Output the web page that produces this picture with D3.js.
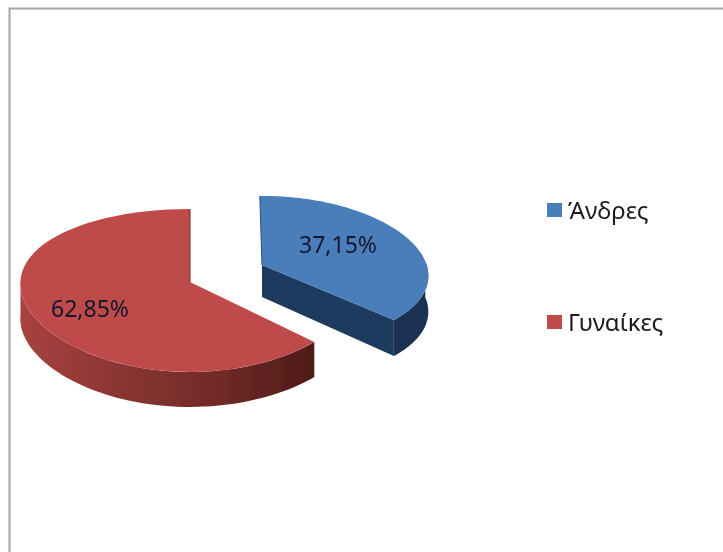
<!DOCTYPE html>
<html><head><meta charset="utf-8">
<script src="https://cdn.jsdelivr.net/npm/d3@7"></script>
<style>html,body{margin:0;padding:0;background:#fff}svg{display:block}text{font-family:"Noto Sans",sans-serif;}</style>
</head><body><svg id="c" width="723" height="552"></svg>
<script>
const categories = ["Άνδρες", "Γυναίκες"];
const values = [37.15, 62.85];
const labels = ["37,15%", "62,85%"];
const faceColors = ["#4a7ebb", "#be4b48"];

const svg = d3.select("#c");
const defs = svg.append("defs");
defs.append("filter").attr("id","soft").attr("x","-5%").attr("y","-5%").attr("width","110%").attr("height","110%")
  .append("feGaussianBlur").attr("stdDeviation",0.6);
const g = defs.append("linearGradient").attr("id","redSide").attr("gradientUnits","userSpaceOnUse")
  .attr("x1",20).attr("x2",314).attr("y1",0).attr("y2",0);
[[0,"#a8423f"],[0.35,"#8a3533"],[0.7,"#6e2927"],[1,"#4f1a18"]].forEach(s=>g.append("stop").attr("offset",s[0]).attr("stop-color",s[1]));

svg.append("path").attr("d","M9.5,552V8.5H723").attr("fill","none").attr("stroke","#a6a6a6").attr("stroke-width",2);

const pie = d3.pie().sort(null).value(d=>d)(values);
const rx = d3.scaleLinear().domain([0,1]).range([0,168]);
const ry = d3.scaleLinear().domain([0,1]).range([0,80.6]);
const depth = 35;
const apex = [
  {x:262,y:265,sx:0.98,sy:0.93,kx:0.142,ky:0.085},
  {x:190,y:282,sx:1.01,sy:1,kx:0.02,ky:0.104}
];
const pt = (i,a)=>{const A=apex[i],u=Math.sin(a),v=-Math.cos(a);
  return [A.x+A.sx*rx(u/(1-A.kx*v)), A.y+A.sy*ry(v/(1-A.ky*v))];};
const arc = (i,a0,a1)=>d3.range(0,61).map(t=>pt(i,a0+(a1-a0)*t/60));
const line = d3.line();
const root = svg.append("g").attr("filter","url(#soft)");

// blue slice
{
 const i=0,p=pie[0],a0=p.startAngle-0.015,a1=p.endAngle;
 const face=arc(i,a0,a1), A=[apex[i].x,apex[i].y];
 const sideArc=arc(i,Math.PI/2-0.05,a1);
 root.append("path").attr("fill","#1c3352")
  .attr("d",line(sideArc.concat(sideArc.slice().reverse().map(q=>[q[0],q[1]+depth+1])))+"Z");
 const tip=face[face.length-1];
 root.append("path").attr("fill","#1f3a5e")
  .attr("d",line([A,tip,[tip[0],tip[1]+depth+1],[A[0],A[1]+depth-3]])+"Z");
 root.append("path").attr("fill",faceColors[0]).attr("d",line(face.concat([A]))+"Z");
 root.append("path").attr("fill","none").attr("stroke","#2b4f7c").attr("stroke-width",1)
  .attr("d",line([face[0],A]));
}
// red slice: clockwise from the tip, round the bottom and left, to the top
{
 const i=1,p=pie[1],a0=p.startAngle,a1=p.endAngle;
 const face=arc(i,a0,a1), A=[apex[i].x,apex[i].y];
 const sideArc=arc(i,a0,Math.PI*1.5+0.03);
 root.append("path").attr("fill","url(#redSide)")
  .attr("d",line(sideArc.concat(sideArc.slice().reverse().map(q=>[q[0],q[1]+depth])))+"Z");
 root.append("path").attr("fill",faceColors[1]).attr("d",line(face.concat([A]))+"Z");
 root.append("path").attr("fill","none").attr("stroke","#6e2927").attr("stroke-width",1)
  .attr("d",line([face[face.length-1],A]));
}
// value labels
const labelPos=[[338,245],[90,309]];
root.selectAll("text.v").data(labels).join("text").attr("class","v")
  .attr("x",(d,i)=>labelPos[i][0]).attr("y",(d,i)=>labelPos[i][1]+8)
  .attr("text-anchor","middle").attr("font-size",23).attr("fill","#14182e").text(d=>d);
// legend
const ly=d3.scalePoint().domain(categories).range([210,322]);
const leg=root.selectAll("g.l").data(categories).join("g").attr("class","l").attr("transform",d=>`translate(547,${ly(d)})`);
leg.append("rect").attr("y",-7).attr("width",15).attr("height",14).attr("fill",(d,i)=>faceColors[i]);
leg.append("text").attr("x",21).attr("y",9).attr("font-size",24).attr("fill","#1a1a1a").text(d=>d);
</script></body></html>
